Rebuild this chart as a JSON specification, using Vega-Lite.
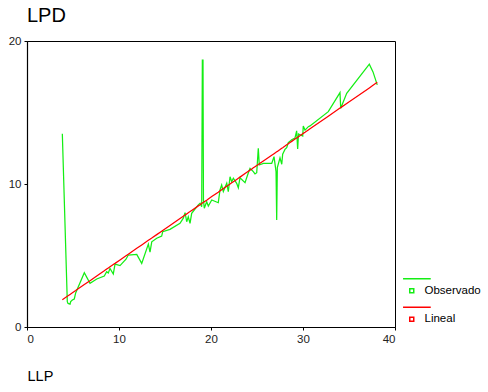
{
  "$schema": "https://vega.github.io/schema/vega-lite/v6.json",
  "width": 368,
  "height": 286,
  "autosize": {"type": "none"},
  "padding": {"left": 27, "top": 41, "right": 93, "bottom": 65},
  "background": "#ffffff",
  "title": {"text": "LPD", "anchor": "start", "frame": "group", "fontSize": 20, "font": "Liberation Sans", "fontWeight": "normal", "color": "#000000", "offset": 9},
  "data": {"values": [
    {"llp": 3.84, "observado": 13.52, "lineal": 1.91},
    {"llp": 4.38, "observado": 1.77, "lineal": 2.15},
    {"llp": 4.46, "observado": 1.65, "lineal": 2.18},
    {"llp": 4.68, "observado": 1.60, "lineal": 2.28},
    {"llp": 4.75, "observado": 1.77, "lineal": 2.31},
    {"llp": 4.93, "observado": 1.89, "lineal": 2.39},
    {"llp": 5.14, "observado": 1.96, "lineal": 2.49},
    {"llp": 5.29, "observado": 2.38, "lineal": 2.55},
    {"llp": 6.23, "observado": 3.80, "lineal": 2.97},
    {"llp": 6.85, "observado": 3.05, "lineal": 3.24},
    {"llp": 7.58, "observado": 3.36, "lineal": 3.57},
    {"llp": 8.40, "observado": 3.56, "lineal": 3.93},
    {"llp": 8.66, "observado": 3.87, "lineal": 4.05},
    {"llp": 8.84, "observado": 3.78, "lineal": 4.13},
    {"llp": 9.02, "observado": 4.10, "lineal": 4.21},
    {"llp": 9.38, "observado": 3.71, "lineal": 4.37},
    {"llp": 9.57, "observado": 4.40, "lineal": 4.45},
    {"llp": 10.11, "observado": 4.29, "lineal": 4.69},
    {"llp": 10.76, "observado": 4.74, "lineal": 4.98},
    {"llp": 11.01, "observado": 5.03, "lineal": 5.09},
    {"llp": 11.93, "observado": 5.08, "lineal": 5.50},
    {"llp": 12.47, "observado": 4.45, "lineal": 5.74},
    {"llp": 13.19, "observado": 5.80, "lineal": 6.06},
    {"llp": 13.37, "observado": 5.23, "lineal": 6.14},
    {"llp": 13.56, "observado": 5.96, "lineal": 6.22},
    {"llp": 14.10, "observado": 6.21, "lineal": 6.46},
    {"llp": 14.64, "observado": 6.36, "lineal": 6.70},
    {"llp": 14.75, "observado": 6.67, "lineal": 6.75},
    {"llp": 15.54, "observado": 6.83, "lineal": 7.10},
    {"llp": 16.63, "observado": 7.25, "lineal": 7.59},
    {"llp": 16.99, "observado": 7.61, "lineal": 7.75},
    {"llp": 17.18, "observado": 8.00, "lineal": 7.83},
    {"llp": 17.36, "observado": 7.36, "lineal": 7.91},
    {"llp": 17.53, "observado": 7.71, "lineal": 7.99},
    {"llp": 17.72, "observado": 7.25, "lineal": 8.07},
    {"llp": 17.90, "observado": 7.95, "lineal": 8.15},
    {"llp": 18.62, "observado": 8.54, "lineal": 8.47},
    {"llp": 18.81, "observado": 8.65, "lineal": 8.55},
    {"llp": 18.99, "observado": 8.41, "lineal": 8.63},
    {"llp": 19.06, "observado": 18.67, "lineal": 8.67},
    {"llp": 19.13, "observado": 18.67, "lineal": 8.70},
    {"llp": 19.18, "observado": 8.88, "lineal": 8.72},
    {"llp": 19.27, "observado": 8.30, "lineal": 8.76},
    {"llp": 19.53, "observado": 8.76, "lineal": 8.87},
    {"llp": 19.71, "observado": 8.46, "lineal": 8.95},
    {"llp": 20.08, "observado": 8.88, "lineal": 9.12},
    {"llp": 20.79, "observado": 8.69, "lineal": 9.43},
    {"llp": 20.98, "observado": 9.58, "lineal": 9.52},
    {"llp": 21.16, "observado": 9.93, "lineal": 9.60},
    {"llp": 21.34, "observado": 9.47, "lineal": 9.68},
    {"llp": 21.71, "observado": 10.05, "lineal": 9.84},
    {"llp": 21.88, "observado": 9.47, "lineal": 9.92},
    {"llp": 22.07, "observado": 10.51, "lineal": 10.00},
    {"llp": 22.25, "observado": 10.16, "lineal": 10.08},
    {"llp": 22.43, "observado": 10.40, "lineal": 10.16},
    {"llp": 22.79, "observado": 10.05, "lineal": 10.32},
    {"llp": 22.97, "observado": 9.74, "lineal": 10.40},
    {"llp": 23.15, "observado": 10.44, "lineal": 10.48},
    {"llp": 23.70, "observado": 10.09, "lineal": 10.73},
    {"llp": 24.06, "observado": 10.79, "lineal": 10.89},
    {"llp": 24.24, "observado": 11.10, "lineal": 10.97},
    {"llp": 24.43, "observado": 10.98, "lineal": 11.05},
    {"llp": 24.60, "observado": 10.86, "lineal": 11.13},
    {"llp": 24.78, "observado": 10.70, "lineal": 11.21},
    {"llp": 24.97, "observado": 10.79, "lineal": 11.29},
    {"llp": 25.14, "observado": 12.50, "lineal": 11.37},
    {"llp": 25.25, "observado": 11.33, "lineal": 11.41},
    {"llp": 25.69, "observado": 11.44, "lineal": 11.61},
    {"llp": 26.60, "observado": 11.44, "lineal": 12.01},
    {"llp": 26.85, "observado": 11.91, "lineal": 12.12},
    {"llp": 27.07, "observado": 10.86, "lineal": 12.22},
    {"llp": 27.14, "observado": 7.48, "lineal": 12.25},
    {"llp": 27.21, "observado": 11.14, "lineal": 12.28},
    {"llp": 27.50, "observado": 11.83, "lineal": 12.41},
    {"llp": 27.69, "observado": 11.38, "lineal": 12.50},
    {"llp": 27.79, "observado": 12.08, "lineal": 12.54},
    {"llp": 28.04, "observado": 12.42, "lineal": 12.65},
    {"llp": 28.23, "observado": 12.54, "lineal": 12.74},
    {"llp": 28.40, "observado": 12.89, "lineal": 12.81},
    {"llp": 28.59, "observado": 13.00, "lineal": 12.90},
    {"llp": 28.77, "observado": 13.10, "lineal": 12.98},
    {"llp": 29.13, "observado": 13.22, "lineal": 13.14},
    {"llp": 29.31, "observado": 13.72, "lineal": 13.22},
    {"llp": 29.42, "observado": 12.45, "lineal": 13.27},
    {"llp": 29.51, "observado": 13.50, "lineal": 13.31},
    {"llp": 29.97, "observado": 13.35, "lineal": 13.51},
    {"llp": 30.03, "observado": 14.06, "lineal": 13.54},
    {"llp": 30.22, "observado": 13.77, "lineal": 13.62},
    {"llp": 30.58, "observado": 14.01, "lineal": 13.78},
    {"llp": 30.76, "observado": 14.06, "lineal": 13.86},
    {"llp": 32.75, "observado": 15.06, "lineal": 14.74},
    {"llp": 34.02, "observado": 16.39, "lineal": 15.31},
    {"llp": 34.10, "observado": 15.29, "lineal": 15.34},
    {"llp": 34.75, "observado": 16.34, "lineal": 15.63},
    {"llp": 37.21, "observado": 18.38, "lineal": 16.72},
    {"llp": 37.61, "observado": 17.84, "lineal": 16.90},
    {"llp": 38.07, "observado": 16.93, "lineal": 17.11}
  ]},
  "layer": [
    {
      "mark": {"type": "line", "strokeWidth": 1.25},
      "encoding": {
        "x": {"field": "llp", "type": "quantitative", "scale": {"domain": [0, 40], "nice": false},
              "axis": {"values": [0, 10, 20, 30, 40], "title": "LLP", "titleAnchor": "start", "titleAlign": "left", "titleBaseline": "alphabetic", "titleX": 0, "titleY": 53, "titleFontSize": 14.5, "titleFontWeight": "normal", "titleFont": "Liberation Sans", "titleColor": "#000000", "labelBaseline": "alphabetic", "labelPadding": 12.5}},
        "y": {"field": "observado", "type": "quantitative", "scale": {"domain": [0, 20], "nice": false},
              "axis": {"values": [0, 10, 20], "title": null, "labelPadding": 3,
                       "encode": {"labels": {"update": {"dy": {"signal": "datum.value === 0 ? -5 : 0"}}}}}},
        "color": {"datum": "Observado", "type": "nominal",
                  "scale": {"domain": ["Observado", "Lineal"], "range": ["#14ee14", "#ff0000"]},
                  "legend": {"orient": "none", "legendX": 379, "legendY": 244, "title": null,
                             "symbolType": "M-4.35,-6H9.5M-1,-1H1V1H-1Z", "symbolSize": 16, "symbolStrokeWidth": 1.5,
                             "symbolFillColor": "#ffffff", "labelOffset": 7, "labelFontSize": 11.5,
                             "labelFont": "Liberation Sans", "labelColor": "#000000", "rowPadding": 6.5}}
      }
    },
    {
      "mark": {"type": "line", "strokeWidth": 1.25},
      "encoding": {
        "x": {"field": "llp", "type": "quantitative"},
        "y": {"field": "lineal", "type": "quantitative"},
        "color": {"datum": "Lineal", "type": "nominal"}
      }
    }
  ],
  "config": {
    "font": "Liberation Sans",
    "view": {"stroke": "#000000", "strokeWidth": 1},
    "axis": {"grid": false, "domainColor": "#000000", "domainWidth": 1.2, "tickColor": "#000000", "tickSize": 3,
             "labelColor": "#222222", "labelFont": "Liberation Sans", "labelFontSize": 11.5}
  }
}
